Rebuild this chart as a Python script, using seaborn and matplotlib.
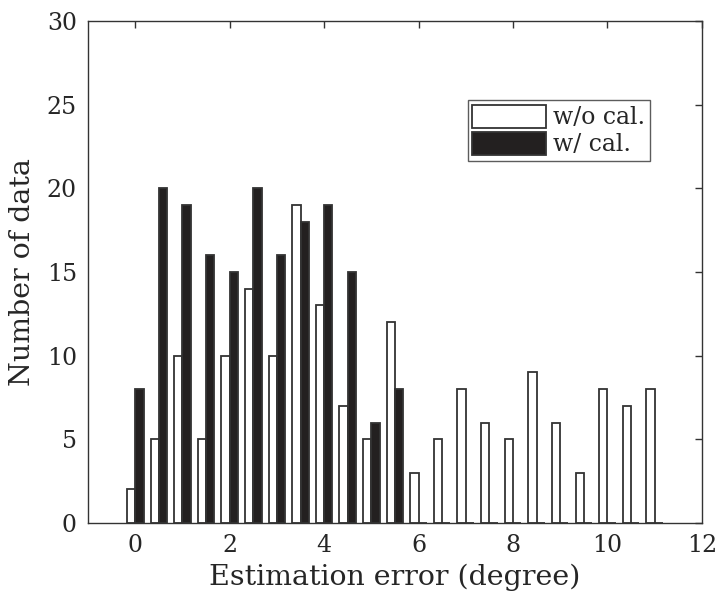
import pandas as pd
import matplotlib
matplotlib.use("Agg")
import matplotlib.pyplot as plt
import seaborn as sns

# bin centres of the estimation error (degree)
bins = [0, 0.5, 1, 1.5, 2, 2.5, 3, 3.5, 4, 4.5, 5, 5.5,
        6, 6.5, 7, 7.5, 8, 8.5, 9, 9.5, 10, 10.5, 11]
# counts
wo_cal = [2, 5, 10, 5, 10, 14, 10, 19, 13, 7, 5, 12,
          3, 5, 8, 6, 5, 9, 6, 3, 8, 7, 8]
w_cal = [8, 20, 19, 16, 15, 20, 16, 18, 19, 15, 6, 8,
         0, 0, 0, 0, 0, 0, 0, 0, 0, 0, 0]
series = ["w/o cal.", "w/ cal."]

df = pd.concat([
    pd.DataFrame({"err": bins, "count": wo_cal, "cond": series[0]}),
    pd.DataFrame({"err": bins, "count": w_cal, "cond": series[1]}),
])

sns.set_style("white")
plt.rcParams["font.family"] = ["DejaVu Serif"]

fig = plt.figure(figsize=(7.22, 6.01), dpi=100)
ax = fig.add_axes([0.122, 0.130, 0.850, 0.835])

dark = "#231f20"
sns.barplot(data=df, x="err", y="count", hue="cond", hue_order=series,
            native_scale=True, width=0.7, gap=0,
            palette=["white", dark], edgecolor="#333333", linewidth=1.3,
            ax=ax)

ax.set_xlim(-1, 12)
ax.set_ylim(0, 30)
ax.set_xticks(range(0, 13, 2))
ax.set_yticks(range(0, 31, 5))
ax.tick_params(direction="in", top=True, right=True, labelsize=17,
               length=5, width=1, color="#333333", pad=8)
for s in ax.spines.values():
    s.set_color("#333333")
    s.set_linewidth(1.0)

ax.set_xlabel("Estimation error (degree)", fontsize=20.5, labelpad=5)
ax.set_ylabel("Number of data", fontsize=20.5, labelpad=8)

leg = ax.legend(loc="upper right", bbox_to_anchor=(0.915, 0.843),
                fontsize=17, handlelength=3.1, handleheight=1.15,
                handletextpad=0.3, borderpad=0.2, labelspacing=0.1,
                borderaxespad=0, fancybox=False, frameon=True,
                edgecolor="#333333")
leg.get_frame().set_linewidth(1.0)

fig.savefig("out.png", dpi=100)
